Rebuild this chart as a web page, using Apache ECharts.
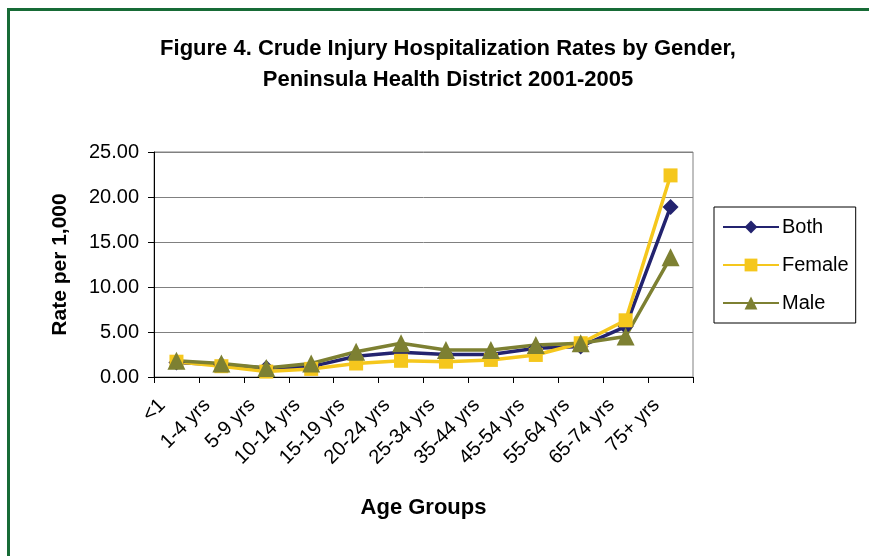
<!DOCTYPE html>
<html>
<head>
<meta charset="utf-8">
<script src="https://cdn.jsdelivr.net/npm/echarts@6/dist/echarts.min.js"></script>
<style>
html,body{margin:0;padding:0;background:#fff;}
#chart{width:869px;height:556px;}
</style>
</head>
<body>
<div id="chart"></div>
<script>
const categories = ['<1','1-4 yrs','5-9 yrs','10-14 yrs','15-19 yrs','20-24 yrs','25-34 yrs','35-44 yrs','45-54 yrs','55-64 yrs','65-74 yrs','75+ yrs'];
const both   = [1.6, 1.35, 1.0, 1.15, 2.3, 2.75, 2.5, 2.5, 3.2, 3.4, 5.6, 18.9];
const female = [1.7, 1.2, 0.6, 0.9, 1.5, 1.8, 1.7, 1.9, 2.45, 3.75, 6.3, 22.4];
const male   = [1.8, 1.5, 1.0, 1.5, 2.8, 3.75, 3.0, 3.0, 3.55, 3.75, 4.5, 13.3];
const yTicks = [0, 5, 10, 15, 20, 25];

const chart = echarts.init(document.getElementById('chart'), null, {renderer:'canvas'});
const font = '"Liberation Sans", Arial, sans-serif';
const mk = (name, data, color, symbol, size) => ({
  name, type:'line', data, symbol, symbolSize:size,
  lineStyle:{color, width:3.5}, itemStyle:{color},
  emphasis:{disabled:true}, animation:false
});
chart.setOption({
  animation:false,
  title:{
    text:'Figure 4. Crude Injury Hospitalization Rates by Gender,\nPeninsula Health District 2001-2005',
    left:443, top:28, textAlign:'center',
    textStyle:{fontFamily:font, fontSize:22, fontWeight:'bold', color:'#000', lineHeight:31}
  },
  legend:{
    orient:'vertical', left:714, top:207,
    padding:[10,7,10,8], itemGap:18, itemWidth:56, itemHeight:16,
    borderColor:'#000', borderWidth:1,
    textStyle:{fontFamily:font, fontSize:20, color:'#000', lineHeight:20, padding:[0,0,0,-2]},
    data:['Both','Female','Male']
  },
  grid:{left:154, top:152, width:539, height:225, show:true, borderColor:'#808080', borderWidth:1},
  xAxis:{
    type:'category', data:categories, boundaryGap:true,
    name:'Age Groups', nameLocation:'middle', nameGap:120,
    nameTextStyle:{fontFamily:font, fontSize:22, fontWeight:'bold', color:'#000'},
    axisLine:{lineStyle:{color:'#000', width:1}},
    axisTick:{show:true, alignWithLabel:false, length:6, lineStyle:{color:'#000'}},
    axisLabel:{rotate:45, fontFamily:font, fontSize:20, color:'#000', margin:11, padding:[0,20,0,0], interval:0}
  },
  yAxis:{
    type:'value', min:yTicks[0], max:yTicks[yTicks.length-1], interval:5,
    name:'Rate per 1,000', nameLocation:'middle', nameGap:83, nameRotate:90,
    nameTextStyle:{fontFamily:font, fontSize:21, fontWeight:'bold', color:'#000'},
    axisLine:{show:true, lineStyle:{color:'#000', width:1}},
    axisTick:{show:true, length:6, lineStyle:{color:'#000'}},
    axisLabel:{fontFamily:font, fontSize:20, color:'#000', margin:15, formatter:v=>v.toFixed(2)},
    splitLine:{show:true, lineStyle:{color:'#808080', width:1}}
  },
  graphic:[{
    type:'rect', shape:{x:8.5, y:9.5, width:1000, height:1000},
    style:{fill:null, stroke:'#176b36', lineWidth:3}, silent:true, z:-1
  }],
  series:[
    mk('Both', both, '#23236f', 'diamond', 16),
    mk('Female', female, '#f5c71d', 'rect', 14),
    mk('Male', male, '#7d8032', 'triangle', 18)
  ]
});
</script>
</body>
</html>
